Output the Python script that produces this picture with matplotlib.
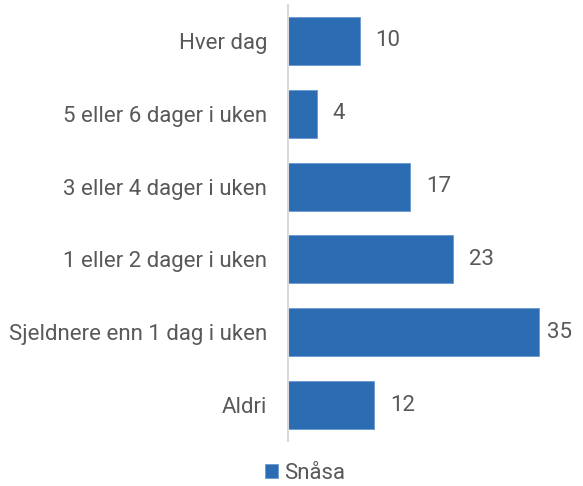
import matplotlib.pyplot as plt

categories = ["Hver dag", "5 eller 6 dager i uken", "3 eller 4 dager i uken",
              "1 eller 2 dager i uken", "Sjeldnere enn 1 dag i uken", "Aldri"]
values = [10, 4, 17, 23, 35, 12]
series_name = "Snåsa"

plt.rcParams['font.family'] = ['Roboto', 'DejaVu Sans']
text_color = '#595959'
bar_color = '#2B6CB3'

fig = plt.figure(figsize=(5.83, 4.86), dpi=100)
ax = fig.add_axes([288 / 583, 1 - 441.4 / 486, 287 / 583, 436.8 / 486])

ypos = list(range(len(categories)))
bars = ax.barh(ypos, values, height=0.66, color=bar_color,
               edgecolor='#6A9AD0', linewidth=0.6, label=series_name)

# labels sit right of the bar end, kept inside the plot area like the original
for y, v in zip(ypos, values):
    ax.text(min(v + 2.2, 36.1), y, str(v), va='center', ha='left',
            fontsize=16, color=text_color)

ax.set_yticks(ypos)
ax.set_yticklabels(categories, fontsize=16, color=text_color)
ax.tick_params(axis='y', length=0, pad=15)
ax.set_xticks([])
ax.set_xlim(0, 40)
ax.set_ylim(len(categories) - 0.5, -0.5)

for side in ['top', 'right', 'bottom']:
    ax.spines[side].set_visible(False)
ax.spines['left'].set_color('#D9D9D9')
ax.spines['left'].set_linewidth(1.5)

fig.legend(handles=[bars], labels=[series_name], loc='center',
           bbox_to_anchor=(305 / 583, 1 - 473 / 486), frameon=False,
           fontsize=16, labelcolor=text_color, handlelength=0.6,
           handleheight=0.6, handletextpad=0.3)

fig.savefig('out.png', dpi=100)
